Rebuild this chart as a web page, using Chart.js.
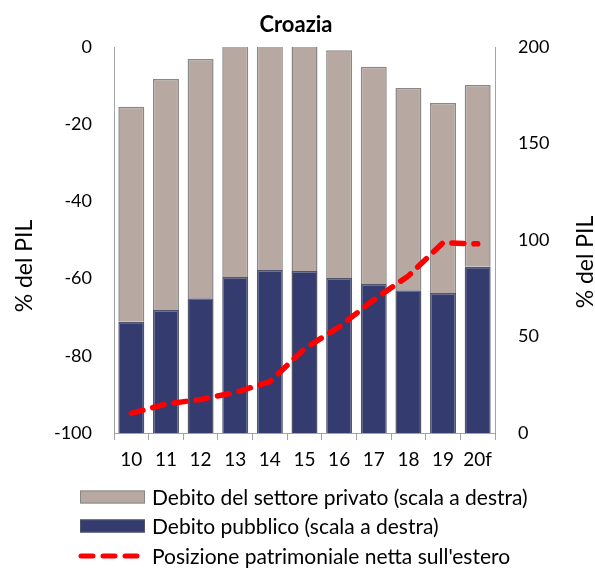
<!DOCTYPE html>
<html>
<head>
<meta charset="utf-8">
<script src="https://cdn.jsdelivr.net/npm/chart.js@4/dist/chart.umd.min.js"></script>
<style>
html, body { margin: 0; padding: 0; background: #fff; }
</style>
</head>
<body>
<canvas id="myChart" width="595" height="568"></canvas>
<script>
// Croazia: debito pubblico e privato (% del PIL, scala a destra), PNNE (scala a sinistra)
const anni = ['10', '11', '12', '13', '14', '15', '16', '17', '18', '19', '20f'];
const debitoPubblico = [57.7, 63.7, 69.8, 80.8, 84.5, 83.9, 80.3, 77.2, 73.9, 72.5, 86.2];
const debitoPrivato = [111.4, 119.7, 124.0, 124.0, 120.5, 121.0, 118.0, 112.6, 104.9, 98.5, 94.1];
const posizioneNetta = [-94.9, -92.5, -91.3, -89.5, -86.7, -78.2, -72.5, -65.5, -59.3, -50.7, -51.0];

const ticksSinistra = [0, -20, -40, -60, -80, -100];
const ticksDestra = [0, 50, 100, 150, 200];

const FONT = 'Lato';
const grigioAsse = '#a3a3a3';

// titolo, titoli degli assi e legenda disegnati a mano
const extras = {
    id: 'extras',
    afterDraw(chart) {
        const { ctx } = chart;
        ctx.save();
        ctx.fillStyle = '#000';
        ctx.textAlign = 'center';
        ctx.textBaseline = 'middle';
        ctx.font = 'bold 22px ' + FONT;
        ctx.fillText('Croazia', 296, 25);

        ctx.font = '23px ' + FONT;
        [[25, 266], [586, 262]].forEach(([x, y]) => {
            ctx.save();
            ctx.translate(x, y);
            ctx.rotate(-Math.PI / 2);
            ctx.fillText('% del PIL', 0, 0);
            ctx.restore();
        });

        // legenda
        const righe = [497, 526, 556];
        ctx.textAlign = 'left';
        ctx.font = '21px ' + FONT;
        chart.data.datasets.forEach((ds, i) => {
            const y = righe[i];
            if (ds.type === 'line') {
                ctx.save();
                ctx.strokeStyle = ds.borderColor;
                ctx.lineWidth = 5;
                ctx.lineCap = 'round';
                ctx.setLineDash([12, 10]);
                ctx.beginPath();
                ctx.moveTo(81, y);
                ctx.lineTo(146, y);
                ctx.stroke();
                ctx.restore();
            } else {
                ctx.fillStyle = ds.backgroundColor;
                ctx.fillRect(80, y - 6.5, 65, 13);
                ctx.strokeStyle = ds.borderColor;
                ctx.lineWidth = 1;
                ctx.strokeRect(80.5, y - 6, 64, 12);
            }
            ctx.fillStyle = '#000';
            ctx.fillText(ds.label, 152, y + 1);
        });
        ctx.restore();
    }
};

const ctx = document.getElementById('myChart').getContext('2d');
const myChart = new Chart(ctx, {
    data: {
        labels: anni,
        datasets: [
            {
                type: 'bar', label: 'Debito del settore privato (scala a destra)',
                data: debitoPrivato, yAxisID: 'y1', stack: 'debito', order: 2,
                backgroundColor: '#b7a9a1', borderColor: '#878787', borderWidth: 1.5,
                barPercentage: 0.75, categoryPercentage: 1
            },
            {
                type: 'bar', label: 'Debito pubblico (scala a destra)',
                data: debitoPubblico, yAxisID: 'y1', stack: 'debito', order: 1,
                backgroundColor: '#343b6f', borderColor: '#50546a', borderWidth: 1.5,
                barPercentage: 0.75, categoryPercentage: 1
            },
            {
                type: 'line', label: "Posizione patrimoniale netta sull'estero",
                data: posizioneNetta, yAxisID: 'y', order: 0,
                borderColor: '#ff0000', borderWidth: 5.5, borderDash: [12, 10],
                borderCapStyle: 'round', pointRadius: 0, tension: 0, fill: false
            }
        ]
    },
    options: {
        responsive: false,
        animation: false,
        layout: { padding: { top: 47, left: 0, right: 0, bottom: 0 } },
        plugins: {
            legend: { display: false },
            title: { display: false },
            tooltip: { enabled: false }
        },
        // i dataset a barre si impilano sull'asse destro (y1); la linea no
        scales: {
            x: {
                stacked: true,
                offset: true,
                grid: { display: true, drawOnChartArea: false, drawTicks: true, tickLength: 7, color: grigioAsse, offset: true },
                border: { display: true, color: grigioAsse, width: 1 },
                ticks: { color: '#000', font: { family: FONT, size: 19 }, padding: 8, maxRotation: 0 },
                afterFit: s => { s.height = 135; }
            },
            y: {
                position: 'left',
                min: -100, max: 0,
                grid: { display: false, drawTicks: false },
                border: { display: true, color: grigioAsse, width: 1 },
                afterBuildTicks: s => { s.ticks = ticksSinistra.map(v => ({ value: v })); },
                ticks: { color: '#000', font: { family: FONT, size: 18 }, padding: 22 },
                afterFit: s => { s.width = 114; }
            },
            y1: {
                position: 'right',
                stacked: true,
                min: 0, max: 200,
                grid: { display: false, drawTicks: false },
                border: { display: true, color: grigioAsse, width: 1 },
                afterBuildTicks: s => { s.ticks = ticksDestra.map(v => ({ value: v })); },
                ticks: { color: '#000', font: { family: FONT, size: 18 }, padding: 23 },
                afterFit: s => { s.width = 100; }
            }
        }
    },
    plugins: [extras]
});
</script>
</body>
</html>
